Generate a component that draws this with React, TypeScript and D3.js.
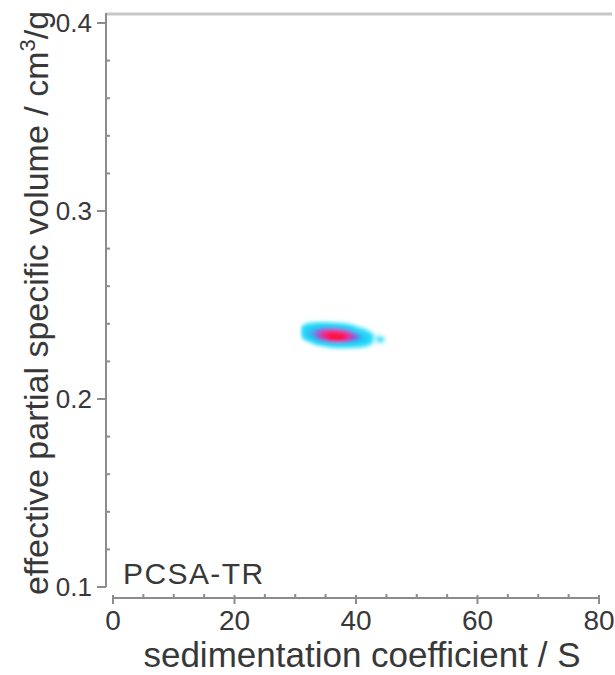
import React, { useEffect, useRef } from 'react';
import * as d3 from 'd3';

// x / y tick values
const xMajorTicks = [0, 20, 40, 60, 80];
const xMinorTicks = [5, 10, 15, 25, 30, 35, 45, 50, 55, 65, 70, 75];
const yMajorTicks = [0.1, 0.2, 0.3, 0.4];
const yMinorTicks = [0.12, 0.14, 0.16, 0.18, 0.22, 0.24, 0.26, 0.28, 0.32, 0.34, 0.36, 0.38];

// grid of the PCSA distribution
const sGrid = [31, 32, 33, 34, 35, 36, 37, 38, 39, 40, 41, 42, 43, 44, 45];
const vGrid = [0.242, 0.24, 0.238, 0.236, 0.234, 0.232, 0.23, 0.228, 0.226];
const density = [
  [0, 0, 0, 0, 0, 0, 0, 0, 0, 0, 0, 0, 0, 0, 0],
  [0, 0.08, 0.12, 0.14, 0.14, 0.12, 0.1, 0.08, 0.04, 0, 0, 0, 0, 0, 0],
  [0.1, 0.3, 0.36, 0.4, 0.44, 0.44, 0.42, 0.36, 0.26, 0.12, 0.04, 0, 0, 0, 0],
  [0.18, 0.36, 0.42, 0.56, 0.7, 0.78, 0.74, 0.64, 0.5, 0.36, 0.24, 0.08, 0, 0, 0],
  [0.12, 0.36, 0.44, 0.62, 0.84, 0.97, 1.0, 0.9, 0.68, 0.5, 0.38, 0.26, 0.04, 0.03, 0],
  [0, 0.18, 0.32, 0.48, 0.64, 0.84, 0.9, 0.78, 0.6, 0.46, 0.36, 0.26, 0.04, 0.14, 0.02],
  [0, 0, 0.1, 0.22, 0.32, 0.4, 0.42, 0.4, 0.36, 0.32, 0.28, 0.16, 0.02, 0.06, 0],
  [0, 0, 0, 0.02, 0.06, 0.1, 0.12, 0.12, 0.12, 0.1, 0.08, 0.04, 0, 0, 0],
  [0, 0, 0, 0, 0, 0, 0, 0, 0, 0, 0, 0, 0, 0, 0],
];

const colorLevels = [0, 0.12, 0.34, 0.52, 0.66, 0.9];
const colorStops = ['#d8f8ff', '#2ee0fa', '#18cdf4', '#7a5ee0', '#e030a0', '#ff0a3a'];

export default function App() {
  const ref = useRef<SVGSVGElement | null>(null);

  useEffect(() => {
    const svg = d3.select(ref.current);
    svg.selectAll('*').remove();

    const font = 'Liberation Sans, Arial, Helvetica, sans-serif';
    const axisColor = '#8c8c8c';
    const textColor = '#383838';

    const x = d3.scaleLinear().domain([0, 80]).range([113, 599]);
    const y = d3.scaleLinear().domain([0.1, 0.4]).range([587, 23]);
    const xAxisY = 598;
    const yAxisX = 106;

    // ---- heatmap ----
    const color = d3.scaleLinear<string>()
      .domain(colorLevels)
      .range(colorStops)
      .interpolate(d3.interpolateRgb)
      .clamp(true);

    const defs = svg.append('defs');
    defs.append('filter').attr('id', 'soft')
      .attr('x', '-20%').attr('y', '-50%').attr('width', '140%').attr('height', '200%')
      .append('feGaussianBlur').attr('stdDeviation', 1.8);

    // bilinear lookup of the grid, only for smooth drawing
    const sample = (s: number, v: number) => {
      const fi = (vGrid[0] - v) / (vGrid[0] - vGrid[1]);
      const fj = s - sGrid[0];
      const i0 = Math.floor(fi), j0 = Math.floor(fj);
      if (i0 < 0 || j0 < 0 || i0 >= vGrid.length - 1 || j0 >= sGrid.length - 1) return 0;
      const ti = fi - i0, tj = fj - j0;
      const a = density[i0][j0], b = density[i0][j0 + 1];
      const c = density[i0 + 1][j0], d = density[i0 + 1][j0 + 1];
      return (a * (1 - tj) + b * tj) * (1 - ti) + (c * (1 - tj) + d * tj) * ti;
    };

    const cells: { s: number; v: number; val: number }[] = [];
    const ds = 0.25, dv = 0.0005;
    for (let s = sGrid[0]; s < sGrid[sGrid.length - 1]; s += ds) {
      for (let v = vGrid[vGrid.length - 1]; v < vGrid[0]; v += dv) {
        const val = sample(s + ds / 2, v + dv / 2);
        if (val > 0.01) cells.push({ s, v, val });
      }
    }

    const cellW = x(ds) - x(0);
    const cellH = y(0.1) - y(0.1 + dv);
    svg.append('g').attr('filter', 'url(#soft)')
      .selectAll('rect').data(cells).join('rect')
      .attr('x', d => x(d.s))
      .attr('y', d => y(d.v + dv))
      .attr('width', cellW + 0.4)
      .attr('height', cellH + 0.4)
      .attr('fill', d => color(d.val))
      .attr('fill-opacity', d => Math.min(1, d.val / 0.1));

    // ---- frame ----
    svg.append('line')
      .attr('x1', yAxisX).attr('x2', 612).attr('y1', 14).attr('y2', 14)
      .attr('stroke', '#c8c8c8').attr('stroke-width', 3);

    // y axis
    const gy = svg.append('g').attr('stroke', axisColor).attr('stroke-width', 2);
    gy.append('line').attr('x1', yAxisX).attr('x2', yAxisX).attr('y1', 13).attr('y2', y(0.1));
    gy.selectAll('line.major').data(yMajorTicks).join('line').attr('class', 'major')
      .attr('x1', yAxisX - 9).attr('x2', yAxisX).attr('y1', d => y(d)).attr('y2', d => y(d));
    gy.selectAll('line.minor').data(yMinorTicks).join('line').attr('class', 'minor')
      .attr('x1', yAxisX).attr('x2', yAxisX + 4).attr('y1', d => y(d)).attr('y2', d => y(d));

    svg.append('g').selectAll('text').data(yMajorTicks).join('text')
      .attr('x', yAxisX - 14).attr('y', d => y(d))
      .attr('dy', '0.35em')
      .attr('text-anchor', 'end')
      .attr('font-family', font).attr('font-size', 26).attr('fill', textColor)
      .text(d => d3.format('.1f')(d));

    // x axis
    const gx = svg.append('g').attr('stroke', axisColor).attr('stroke-width', 2);
    gx.append('line').attr('x1', x(0)).attr('x2', x(80)).attr('y1', xAxisY).attr('y2', xAxisY);
    gx.selectAll('line.major').data(xMajorTicks).join('line').attr('class', 'major')
      .attr('x1', d => x(d)).attr('x2', d => x(d)).attr('y1', xAxisY - 3).attr('y2', xAxisY + 6);
    gx.selectAll('line.minor').data(xMinorTicks).join('line').attr('class', 'minor')
      .attr('x1', d => x(d)).attr('x2', d => x(d)).attr('y1', xAxisY - 4).attr('y2', xAxisY);

    svg.append('g').selectAll('text').data(xMajorTicks).join('text')
      .attr('x', d => x(d)).attr('y', 630)
      .attr('text-anchor', 'middle')
      .attr('font-family', font).attr('font-size', 28).attr('fill', textColor)
      .text(d => String(d));

    // titles
    svg.append('text')
      .attr('x', 362).attr('y', 667)
      .attr('text-anchor', 'middle')
      .attr('font-family', font).attr('font-size', 35).attr('fill', textColor)
      .text('sedimentation coefficient / S');

    const yt = svg.append('text')
      .attr('transform', 'translate(48,303) rotate(-90)')
      .attr('text-anchor', 'middle')
      .attr('font-family', font).attr('font-size', 34).attr('fill', textColor);
    yt.append('tspan').text('effective partial specific volume / cm');
    yt.append('tspan').attr('dy', -13).attr('font-size', 22).text('3');
    yt.append('tspan').attr('dy', 13).text('/g');

    svg.append('text')
      .attr('x', 123).attr('y', 584)
      .attr('font-family', font).attr('font-size', 30).attr('fill', textColor)
      .attr('letter-spacing', 1.4)
      .text('PCSA-TR');
  }, []);

  return (
    <svg ref={ref} width={615} height={675}
      style={{ position: 'absolute', left: 0, top: 0, background: '#fff' }} />
  );
}
